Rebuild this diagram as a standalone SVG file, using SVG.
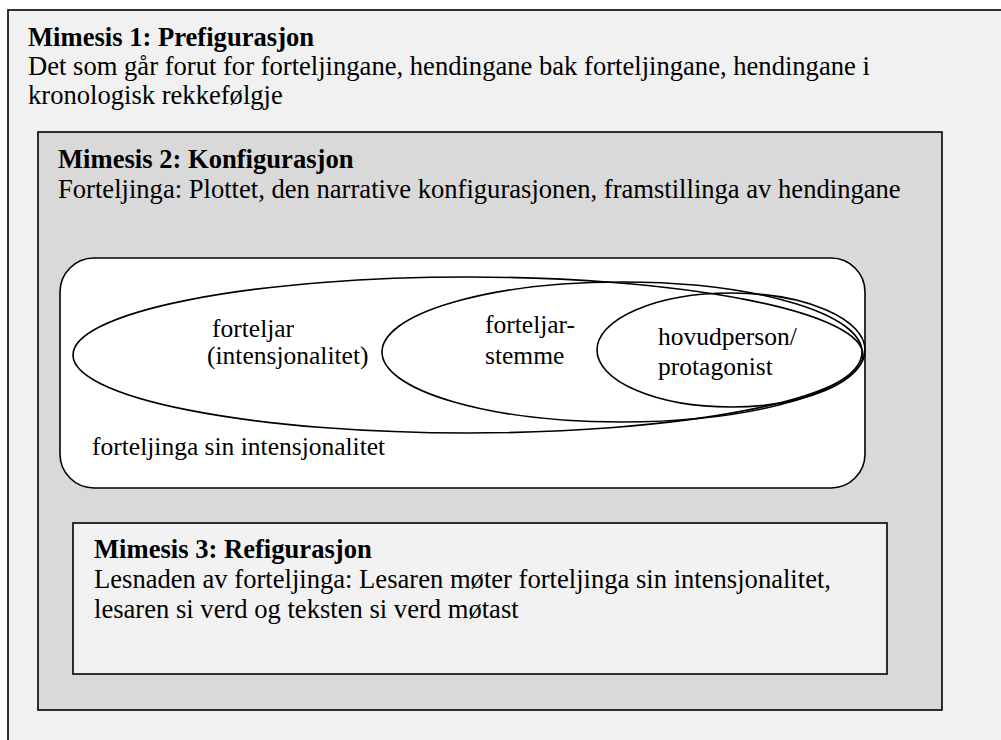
<svg xmlns="http://www.w3.org/2000/svg" width="1001" height="740" viewBox="0 0 1001 740">
<style>
text{font-family:"Liberation Serif","Times New Roman",serif;font-size:26.6px;fill:#000}
.b{font-weight:bold}
.in{font-size:25.5px}
.box{stroke:#000;stroke-width:1.6}
.ell{fill:none;stroke:#000;stroke-width:1.6}
</style>
<rect x="0" y="0" width="1001" height="740" fill="#ffffff"/>
<g id="mimesis1">
<rect class="box" x="8" y="10" width="1100" height="800" fill="#f1f1f1"/>
<text class="b" x="28" y="46">Mimesis 1: Prefigurasjon</text>
<text x="28" y="75">Det som går forut for forteljingane, hendingane bak forteljingane, hendingane i</text>
<text x="28" y="104">kronologisk rekkefølgje</text>
</g>
<g id="mimesis2">
<rect class="box" x="38" y="132" width="904" height="578" fill="#d9d9d9"/>
<text class="b" x="58" y="168">Mimesis 2: Konfigurasjon</text>
<text x="58" y="198">Forteljinga: Plottet, den narrative konfigurasjonen, framstillinga av hendingane</text>
</g>
<g id="intensjonalitet">
<rect class="box" x="60" y="258" width="805" height="230" rx="34" ry="34" fill="#ffffff"/>
<text class="in" x="92" y="455">forteljinga sin intensjonalitet</text>
</g>
<g id="forteljar">
<ellipse class="ell" cx="468" cy="355" rx="395" ry="78"/>
<text class="in" x="212" y="337">forteljar</text>
<text class="in" x="207" y="364">(intensjonalitet)</text>
</g>
<g id="forteljarstemme">
<ellipse class="ell" cx="622" cy="352" rx="240" ry="70"/>
<text class="in" x="485" y="333">forteljar-</text>
<text class="in" x="485" y="364">stemme</text>
</g>
<g id="hovudperson">
<ellipse class="ell" cx="731" cy="350" rx="134" ry="57"/>
<text class="in" x="658" y="345">hovudperson/</text>
<text class="in" x="658" y="375">protagonist</text>
</g>
<g id="mimesis3">
<rect class="box" x="73" y="523" width="814" height="151" fill="#f2f2f2"/>
<text class="b" x="94" y="558">Mimesis 3: Refigurasjon</text>
<text x="94" y="588">Lesnaden av forteljinga: Lesaren møter forteljinga sin intensjonalitet,</text>
<text x="94" y="618">lesaren si verd og teksten si verd møtast</text>
</g>
<g id="connectors"></g>
</svg>
